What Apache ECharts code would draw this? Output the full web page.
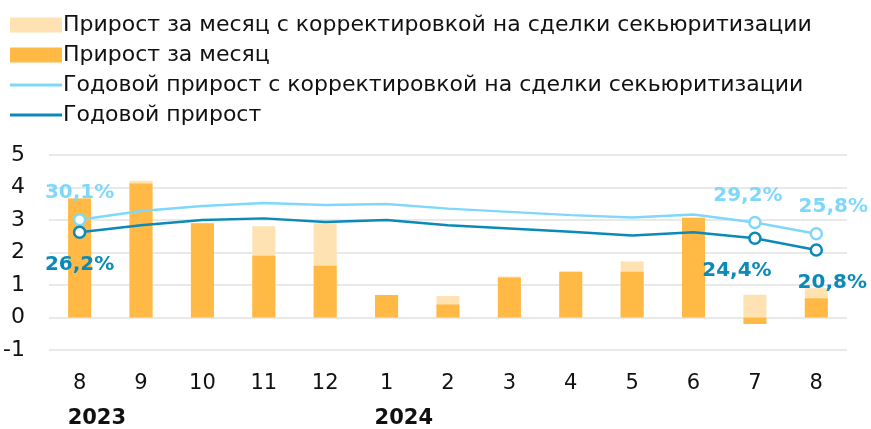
<!DOCTYPE html>
<html>
<head>
<meta charset="utf-8">
<script src="https://cdn.jsdelivr.net/npm/echarts@6/dist/echarts.min.js"></script>
<style>
  html, body { margin: 0; padding: 0; background: #fff; }
  #chart { width: 871px; height: 429px; }
</style>
</head>
<body>
<div id="chart"></div>
<script>
// месяцы и годы
const months = ['8', '9', '10', '11', '12', '1', '2', '3', '4', '5', '6', '7', '8'];
const years = ['2023', '', '', '', '', '2024', '', '', '', '', '', '', ''];

// прирост за месяц, трлн руб.
const monthAdj = [3.66, 4.21, 2.9, 2.81, 2.9, 0.69, 0.66, 1.26, 1.41, 1.72, 3.07, 0.7, 0.9];
const monthRaw = [3.66, 4.12, 2.9, 1.9, 1.59, 0.69, 0.4, 1.23, 1.41, 1.41, 3.07, -0.2, 0.59];

// годовой прирост, %
const yearAdj = [30.1, 32.8, 34.3, 35.2, 34.6, 34.9, 33.5, 32.5, 31.5, 30.8, 31.7, 29.2, 25.8];
const yearRaw = [26.2, 28.4, 30.0, 30.5, 29.4, 30.0, 28.4, 27.4, 26.4, 25.2, 26.2, 24.4, 20.8];

const labelled = [0, 11, 12];

const FONT = 'DejaVu Sans';
const cLightBlue = '#7fd8fc';
const cDarkBlue = '#0b8ab9';
// иконка-линия для легенды (без кружка)
const lineIcon = 'path://M0,0L0.01,0L0.01,0.01Z M0,6H52V9H0Z M0,15L0.01,15L0.01,14.99Z';

const myChart = echarts.init(document.getElementById('chart'));

// сдвиг подписей по x
const shiftAbove = { 0: 0, 11: -7, 12: 17 };
const shiftBelow = { 0: 0, 11: -18, 12: 16 };

function lineData(values, color, above) {
    return values.map((v, i) => {
        if (labelled.indexOf(i) < 0) return { value: v };
        return {
            value: v,
            symbol: 'circle',
            symbolSize: 11,
            itemStyle: { color: '#fff', borderColor: color, borderWidth: 2.5 },
            label: {
                show: true,
                position: above ? 'top' : 'bottom',
                distance: above ? 10 : 16,
                offset: [above ? shiftAbove[i] : shiftBelow[i], 0],
                formatter: v.toFixed(1).replace('.', ',') + '%',
                color: color,
                fontFamily: FONT,
                fontSize: 20,
                fontWeight: 'bold'
            }
        };
    });
}

const option = {
    animation: false,
    textStyle: { fontFamily: FONT },
    legend: {
        orient: 'vertical',
        left: 5,
        top: 8,
        itemWidth: 52,
        itemHeight: 15,
        itemGap: 6,
        textStyle: { fontSize: 22, color: '#111', fontFamily: FONT, lineHeight: 24, padding: [0, 0, 0, -4] },
        data: [
            { name: 'Прирост за месяц с корректировкой на сделки секьюритизации', icon: 'rect' },
            { name: 'Прирост за месяц', icon: 'rect' },
            { name: 'Годовой прирост с корректировкой на сделки секьюритизации', icon: lineIcon },
            { name: 'Годовой прирост', icon: lineIcon }
        ]
    },
    grid: { left: 47, right: 24, top: 155, bottom: 77 },
    xAxis: [
        {
            type: 'category',
            data: months,
            axisLine: { show: false },
            axisTick: { show: false },
            axisLabel: { fontSize: 21, color: '#111', margin: 23, fontFamily: FONT }
        },
        {
            type: 'category',
            data: years,
            position: 'bottom',
            offset: 36,
            axisLine: { show: false },
            axisTick: { show: false },
            axisLabel: {
                fontSize: 21, color: '#111', fontWeight: 'bold', margin: 22, fontFamily: FONT,
                align: 'left', padding: [0, 0, 0, -12], interval: 0
            }
        }
    ],
    yAxis: [
        {
            type: 'value',
            min: -1,
            max: 5,
            interval: 1,
            axisLabel: { fontSize: 22, color: '#111', margin: 24, fontFamily: FONT },
            splitLine: { lineStyle: { color: '#e2e2e2', width: 1.5 } }
        },
        {
            type: 'value',
            min: -10,
            max: 50,
            interval: 10,
            show: false,
            splitLine: { show: false }
        }
    ],
    series: [
        {
            name: 'Прирост за месяц с корректировкой на сделки секьюритизации',
            type: 'bar',
            data: monthAdj,
            barWidth: 23,
            barGap: '-100%',
            itemStyle: { color: '#ffe2b1' },
            z: 2
        },
        {
            name: 'Прирост за месяц',
            type: 'bar',
            data: monthRaw,
            barWidth: 23,
            itemStyle: { color: '#ffb944' },
            z: 3
        },
        {
            name: 'Годовой прирост с корректировкой на сделки секьюритизации',
            type: 'line',
            yAxisIndex: 1,
            symbol: 'none',
            data: lineData(yearAdj, cLightBlue, true),
            lineStyle: { color: cLightBlue, width: 2.5 },
            itemStyle: { color: cLightBlue },
            z: 5
        },
        {
            name: 'Годовой прирост',
            type: 'line',
            yAxisIndex: 1,
            symbol: 'none',
            data: lineData(yearRaw, cDarkBlue, false),
            lineStyle: { color: cDarkBlue, width: 2.5 },
            itemStyle: { color: cDarkBlue },
            z: 5
        }
    ]
};

myChart.setOption(option);
</script>
</body>
</html>
